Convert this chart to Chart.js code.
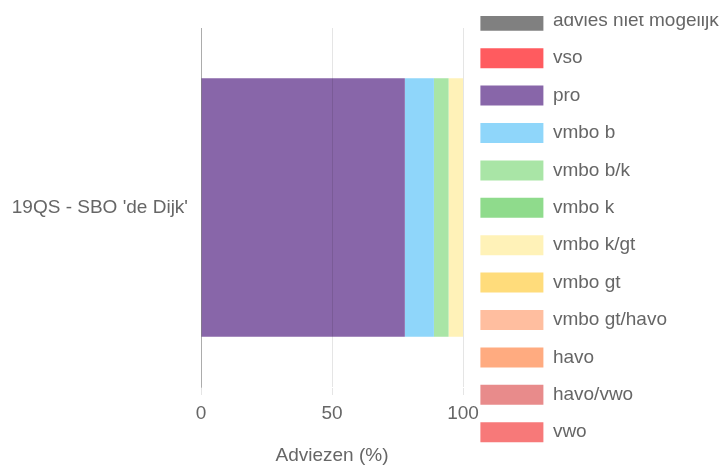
<!DOCTYPE html>
<html>
<head>
<meta charset="utf-8">
<script src="https://cdn.jsdelivr.net/npm/chart.js@4.4.1/dist/chart.umd.min.js"></script>
<style>
  html, body { margin: 0; padding: 0; background: #fff; overflow: hidden; }
  #venster { position: absolute; top: 16px; left: 0; width: 720px; height: 450px; overflow: hidden; }
  #grafiek { position: absolute; top: -30px; left: 0; }
</style>
</head>
<body>
<div id="venster">
  <canvas id="grafiek" width="720" height="481"></canvas>
</div>
<script>
// Gegevens
const scholen = ["19QS - SBO 'de Dijk'"];
const adviezen = ["advies niet mogelijk", "vso", "pro", "vmbo b", "vmbo b/k", "vmbo k",
  "vmbo k/gt", "vmbo gt", "vmbo gt/havo", "havo", "havo/vwo", "vwo"];
const percentages = [0, 0, 77.8, 11.1, 5.6, 0, 5.6, 0, 0, 0, 0, 0];
const kleuren = ["#808080", "#ff5b5f", "#8866a9", "#8fd6fa", "#a9e5a6", "#8fdb8c",
  "#fff2b8", "#ffdc7b", "#ffbe9f", "#ffab80", "#e88b8b", "#f77979"];
const asTicks = [0, 50, 100];

Chart.defaults.font.family = "'Liberation Sans', Arial, sans-serif";
Chart.defaults.font.size = 19;
Chart.defaults.color = "#666";

const datasets = adviezen.map((naam, i) => ({
  label: naam,
  data: [percentages[i]],
  backgroundColor: kleuren[i],
  borderWidth: 0
}));

new Chart(document.getElementById("grafiek"), {
  type: "bar",
  data: { labels: scholen, datasets: datasets },
  options: {
    indexAxis: "y",
    responsive: false,
    animation: false,
    layout: { padding: { left: 7 } },
    plugins: {
      tooltip: { enabled: false },
      // lege titel reserveert ruimte boven het plotvlak
      title: {
        display: true,
        text: "",
        fullSize: false,
        font: { size: 10, lineHeight: 1 },
        padding: { top: 32, bottom: 0 }
      },
      legend: {
        position: "right",
        maxWidth: 257,
        labels: {
          boxWidth: 63,
          boxHeight: 20,
          padding: 17.4,
          color: "#666"
        }
      }
    },
    scales: {
      x: {
        stacked: true,
        min: 0,
        max: 100,
        afterBuildTicks: (as) => { as.ticks = asTicks.map(v => ({ value: v })); },
        grid: { color: "rgba(0,0,0,0.1)", tickLength: 8, z: 1 },
        border: { color: "rgba(0,0,0,0.1)" },
        ticks: { padding: 7, color: "#666" },
        title: {
          display: true,
          text: "Adviezen (%)",
          color: "#666",
          padding: { top: 12.4, bottom: 0 }
        }
      },
      y: {
        stacked: true,
        // breedte vastzetten, anders kapt Chart.js de as af op een kwart van de breedte
        afterFit: (as) => { as.width = 194; },
        grid: { color: "transparent", tickLength: 8 },
        border: { color: "rgba(0,0,0,0.25)", z: 1 },
        ticks: { padding: 5, color: "#666" }
      }
    }
  }
});
</script>
</body>
</html>
